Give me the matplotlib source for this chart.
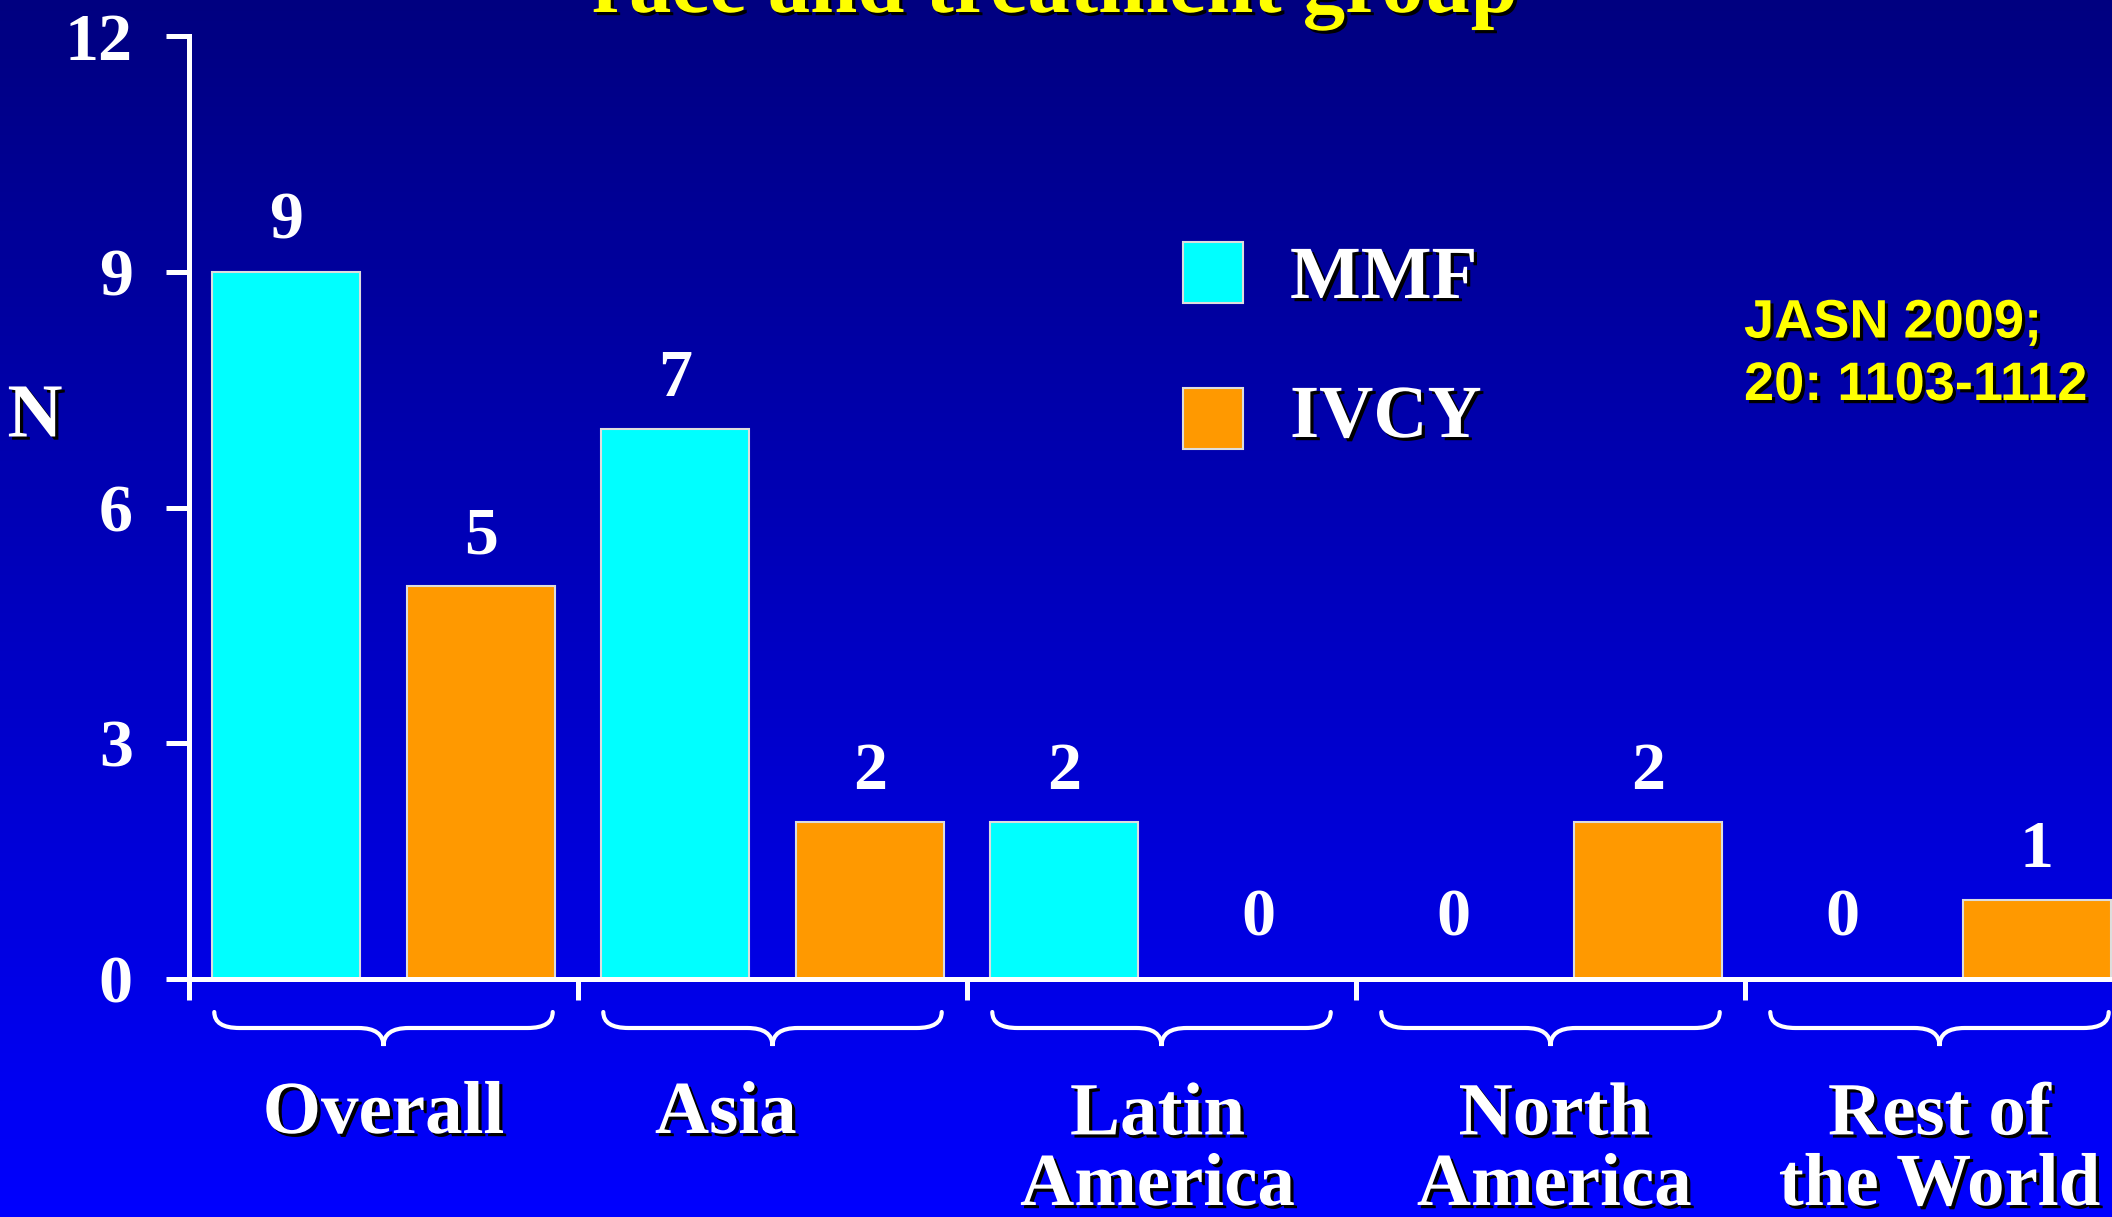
import numpy as np
import matplotlib
matplotlib.use('Agg')
import matplotlib.pyplot as plt
import matplotlib.patheffects as pe
from matplotlib.path import Path
from matplotlib.patches import PathPatch, Rectangle

# ---- data ----
categories = ["Overall", "Asia", "Latin\nAmerica", "North\nAmerica", "Rest of\nthe World"]
mmf = [9, 7, 2, 0, 0]
ivcy = [5, 2, 0, 2, 1]
series_names = ["MMF", "IVCY"]
yticks = [0, 3, 6, 9, 12]
title = "race and treatment group"
citation = "JASN 2009;\n20: 1103-1112"

# ---- layout ----
W, H = 2112, 1217
fig = plt.figure(figsize=(W / 100, H / 100), dpi=100)

SERIF = 'Liberation Serif'
SANS = 'Liberation Sans'
shadow = [pe.withSimplePatchShadow(offset=(2.3, -2.3), shadow_rgbFace='black', alpha=1.0)]

# gradient background
bg = fig.add_axes([0, 0, 1, 1], zorder=-10)
g = np.linspace(0, 1, 512).reshape(-1, 1, 1)
c_top = np.array([0, 0, 128]) / 255
c_bot = np.array([0, 0, 255]) / 255
img = c_top + (c_bot - c_top) * g
img = np.repeat(img, 2, axis=1)
bg.imshow(img, aspect='auto', extent=[0, 1, 0, 1], origin='upper')
bg.set_xlim(0, 1)
bg.set_ylim(0, 1)
bg.set_axis_off()

x0_px, y0_px, ytop_px, grp_px = 189, 979, 36, 389
ax = fig.add_axes([x0_px / W, (H - y0_px) / H, 1 - x0_px / W, (y0_px - ytop_px) / H])
ax.patch.set_alpha(0)
ax.set_xlim(0, (W - x0_px) / grp_px)
ax.set_ylim(0, 12)

x = np.arange(len(categories))
bw = 0.38
colors = ['#00FFFF', '#FF9900']
ax.bar(x + 0.25, mmf, width=bw, color=colors[0], edgecolor='#dddddd', linewidth=1.5, zorder=2)
ax.bar(x + 0.75, ivcy, width=bw, color=colors[1], edgecolor='#dddddd', linewidth=1.5, zorder=2)

# value labels
for xs, vals in ((x + 0.25, mmf), (x + 0.75, ivcy)):
    for xi, v in zip(xs, vals):
        ax.annotate(str(v), (xi, v), xytext=(0, 33 if v > 0 else 44), textcoords='offset pixels',
                    ha='center', va='baseline', color='white', fontsize=49,
                    family=SERIF, weight='bold', annotation_clip=False)

# spines / ticks
for s in ('top', 'right'):
    ax.spines[s].set_visible(False)
for s in ('left', 'bottom'):
    ax.spines[s].set_color('white')
    ax.spines[s].set_linewidth(3.6)
    ax.spines[s].set_zorder(3)
ax.set_yticks(yticks)
ax.set_yticklabels([str(t) for t in yticks], family=SERIF, weight='bold', fontsize=49, color='white')
ax.tick_params(axis='y', direction='out', length=16.5, width=3.6, color='white', pad=24)
ax.set_xticks(x)
ax.set_xticklabels([])
ax.tick_params(axis='x', direction='out', length=15, width=3.6, color='white')

# y label
fig.text(35 / W, 1 - 418 / H, "N", ha='center', va='center', color='white', fontsize=55,
         family=SERIF, weight='bold', path_effects=shadow)

# braces
def brace(xl, xr, yt, ym, yb, r):
    xc = (xl + xr) / 2
    verts = [(xl, yt), (xl, ym), (xl + r, ym), (xc - r, ym), (xc, ym), (xc, yb),
             (xc, ym), (xc + r, ym), (xr - r, ym), (xr, ym), (xr, yt)]
    codes = [Path.MOVETO, Path.CURVE3, Path.CURVE3, Path.LINETO, Path.CURVE3, Path.CURVE3,
             Path.CURVE3, Path.CURVE3, Path.LINETO, Path.CURVE3, Path.CURVE3]
    return PathPatch(Path(verts, codes), fill=False, edgecolor='white', lw=3.0,
                     capstyle='round', clip_on=False)

ypx = 12 / (y0_px - ytop_px)
for xi in x:
    ax.add_patch(brace(xi + 0.065, xi + 0.935, (y0_px - 1012) * ypx, (y0_px - 1028) * ypx,
                       (y0_px - 1046) * ypx, 0.065))

# category labels (anchored at last line baseline)
label_dx = [0, -0.12, -0.01, 0.01, 0]
span = y0_px - ytop_px
for xi, lab, dx in zip(x, categories, label_dx):
    nlines = lab.count('\n') + 1
    base_px = 1133 + 72 * (nlines - 1)
    ax.text(xi + 0.5 + dx, (y0_px - base_px) / span, lab, transform=ax.get_xaxis_transform(),
            ha='center', va='baseline', color='white', fontsize=54, family=SERIF, weight='bold',
            linespacing=1.05, multialignment='center', path_effects=shadow, clip_on=False)

# legend
for i, (name, col) in enumerate(zip(series_names, colors)):
    top = [242, 388][i]
    fig.patches.append(Rectangle((1183 / W, 1 - (top + 61) / H), 60 / W, 61 / H,
                                 transform=fig.transFigure, facecolor=col, edgecolor='#dddddd',
                                 lw=1.5, figure=fig))
    fig.text(1290 / W, 1 - [298, 437][i] / H, name, ha='left', va='baseline', color='white',
             fontsize=54, family=SERIF, weight='bold', path_effects=shadow)

# citation (anchored at last line baseline)
fig.text(1744 / W, 1 - 400 / H, citation, ha='left', va='baseline', color='#FFFF00', fontsize=39,
         family=SANS, weight='bold', linespacing=1.32, path_effects=shadow)

# title (cut off at top)
fig.text(1055 / W, 1 - 12 / H, title, ha='center', va='baseline', color='#FFFF00', fontsize=61,
         family=SERIF, weight='bold', path_effects=shadow)

fig.savefig('out.png', dpi=100)
